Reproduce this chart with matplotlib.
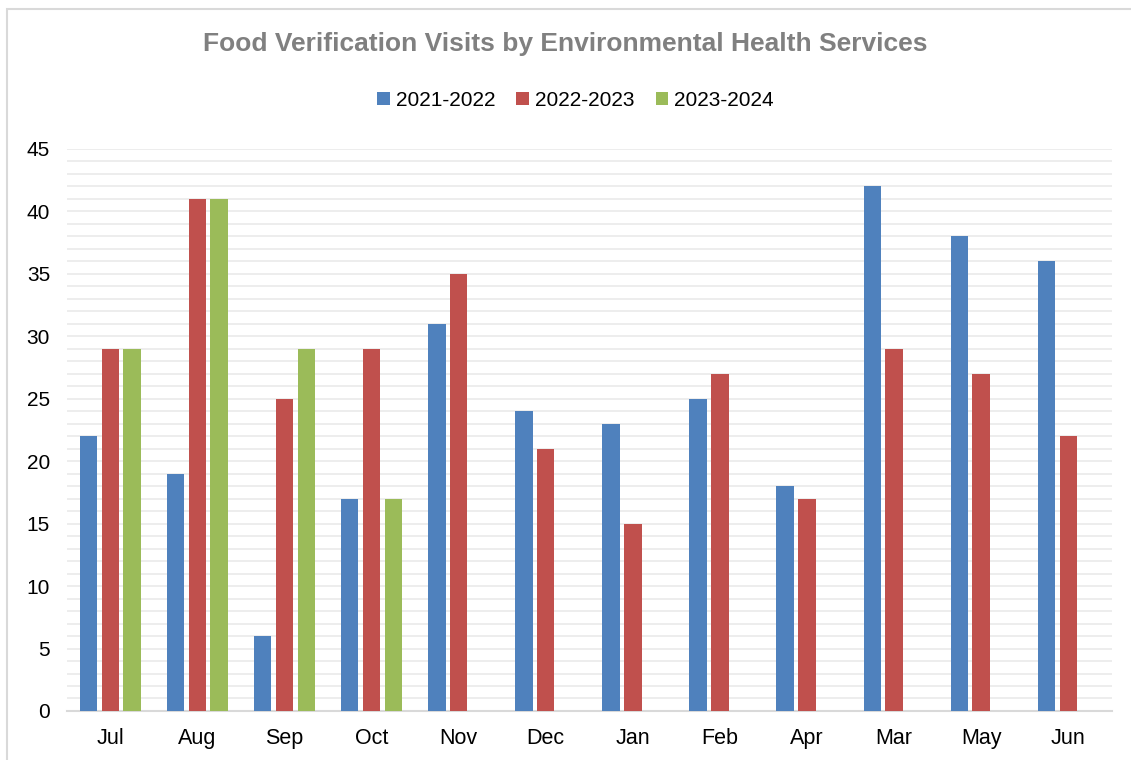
import matplotlib.pyplot as plt
import numpy as np
from matplotlib.patches import Rectangle

plt.rcParams['font.family'] = ['Liberation Sans', 'DejaVu Sans']

months = ['Jul', 'Aug', 'Sep', 'Oct', 'Nov', 'Dec', 'Jan', 'Feb', 'Apr', 'Mar', 'May', 'Jun']
series_names = ['2021-2022', '2022-2023', '2023-2024']
v_2122 = [22, 19, 6, 17, 31, 24, 23, 25, 18, 42, 38, 36]
v_2223 = [29, 41, 25, 29, 35, 21, 15, 27, 17, 29, 27, 22]
v_2324 = [29, 41, 29, 17, None, None, None, None, None, None, None, None]
colors = ['#4F81BD', '#C0504D', '#9BBB59']

fig = plt.figure(figsize=(11.31, 7.6), dpi=100)
ax = fig.add_axes([0.059, 0.0645, 0.924, 0.7395])

x = np.arange(len(months))
width = 0.2
offset = 0.25
for i, (vals, name) in enumerate(zip([v_2122, v_2223, v_2324], series_names)):
    xs = [xi + (i - 1) * offset for xi, v in zip(x, vals) if v is not None]
    ys = [v for v in vals if v is not None]
    ax.bar(xs, ys, width, color=colors[i], label=name, zorder=3)

ax.set_xlim(-0.5, len(months) - 0.5)
ax.set_ylim(0, 45)
ax.set_yticks(range(0, 46, 5))
ax.set_yticks(range(0, 46, 1), minor=True)
ax.grid(axis='y', which='both', color='#EDEDED', linewidth=1.4, zorder=0)
ax.tick_params(axis='y', which='both', length=0, labelsize=15, pad=12)
ax.tick_params(axis='x', length=0, labelsize=15.5, pad=12)
ax.set_xticks(x)
ax.set_xticklabels(months)
for s in ['left', 'right', 'top']:
    ax.spines[s].set_visible(False)
ax.spines['bottom'].set_color('#D9D9D9')
ax.spines['bottom'].set_linewidth(1.5)

fig.text(0.5, 0.942, 'Food Verification Visits by Environmental Health Services',
         ha='center', va='center', fontsize=19, fontweight='bold', color='#808080')
fig.legend(loc='center', bbox_to_anchor=(0.509, 0.868), ncol=3, frameon=False,
           fontsize=15, handlelength=0.6, handleheight=0.6, handletextpad=0.3,
           columnspacing=1.0)

fig.patches.append(Rectangle((7 / 1131, -0.1), 1.2, 1 - 9 / 760 + 0.1,
                             transform=fig.transFigure, fill=False,
                             edgecolor='#D9D9D9', linewidth=1.5))

fig.savefig('out.png', dpi=100)
